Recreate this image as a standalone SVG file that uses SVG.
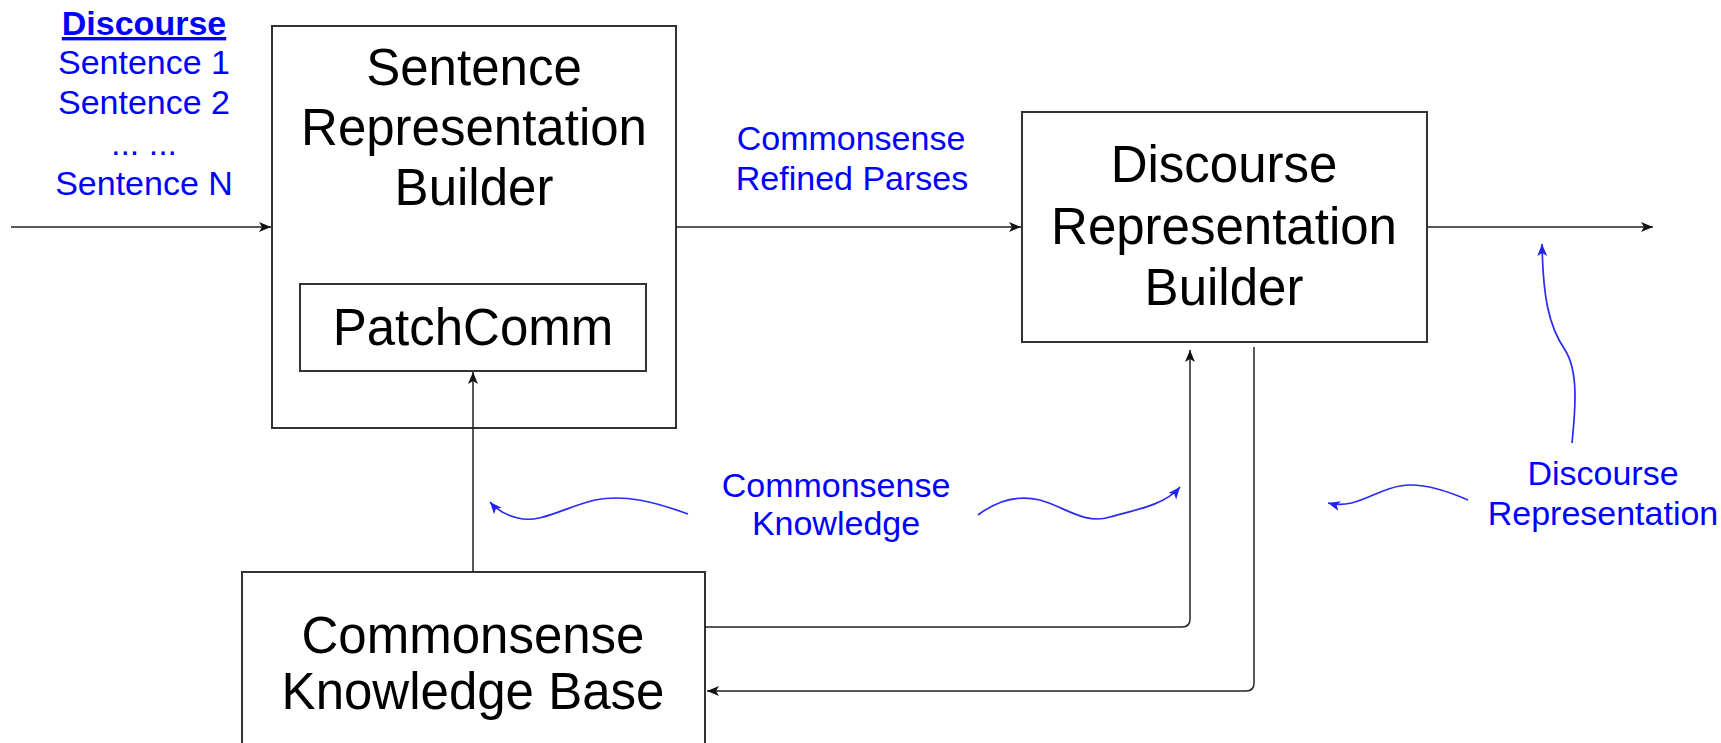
<svg xmlns="http://www.w3.org/2000/svg" width="1721" height="743" viewBox="0 0 1721 743">
<style>
.box{fill:#fff;stroke:#333;stroke-width:2}
.t{font-family:"Liberation Sans",Arial,Helvetica,sans-serif;font-size:51px;fill:#000;text-anchor:middle}
.b{font-family:"Liberation Sans",Arial,Helvetica,sans-serif;font-size:34px;fill:#0000ff;text-anchor:middle}
.c{fill:none;stroke:#222;stroke-width:1.5}
.bc{fill:none;stroke:#2a2af0;stroke-width:1.7}
</style>
<defs>
<marker id="ah" markerUnits="userSpaceOnUse" markerWidth="13" markerHeight="11" refX="12" refY="5.5" orient="auto">
<path d="M0,0.5 L12,5.5 L0,10.5 L3,5.5 Z" fill="#111"/>
</marker>
<marker id="bh" markerUnits="userSpaceOnUse" markerWidth="13" markerHeight="11" refX="12" refY="5.5" orient="auto">
<path d="M0,0.5 L12,5.5 L0,10.5 L3,5.5 Z" fill="#2222f0"/>
</marker>
</defs>
<rect width="1721" height="743" fill="#fff"/>

<g id="input-label">
<text class="b" x="144" y="35" font-weight="bold" text-decoration="underline">Discourse</text>
<text class="b" x="144" y="74">Sentence 1</text>
<text class="b" x="144" y="114">Sentence 2</text>
<text class="b" x="144" y="155">... ...</text>
<text class="b" x="144" y="195">Sentence N</text>
</g>

<g id="sentence-builder">
<rect class="box" x="272" y="26" width="404" height="402"/>
<text class="t" x="474" y="85">Sentence</text>
<text class="t" x="474" y="145">Representation</text>
<text class="t" x="474" y="205">Builder</text>
</g>

<g id="patchcomm">
<rect class="box" x="300" y="284" width="346" height="87"/>
<text class="t" x="473" y="345">PatchComm</text>
</g>

<g id="discourse-builder">
<rect class="box" x="1022" y="112" width="405" height="230"/>
<text class="t" x="1224" y="182">Discourse</text>
<text class="t" x="1224" y="244">Representation</text>
<text class="t" x="1224" y="305">Builder</text>
</g>

<g id="knowledge-base">
<rect class="box" x="242" y="572" width="463" height="190"/>
<text class="t" x="473" y="653">Commonsense</text>
<text class="t" x="473" y="709">Knowledge Base</text>
</g>

<g id="labels">
<text class="b" x="851" y="150">Commonsense</text>
<text class="b" x="852" y="190">Refined Parses</text>
<text class="b" x="836" y="497">Commonsense</text>
<text class="b" x="836" y="535">Knowledge</text>
<text class="b" x="1603" y="485">Discourse</text>
<text class="b" x="1603" y="525">Representation</text>
</g>

<g id="connectors">
<line class="c" x1="11" y1="227" x2="271" y2="227" marker-end="url(#ah)"/>
<line class="c" x1="676" y1="227" x2="1021" y2="227" marker-end="url(#ah)"/>
<line class="c" x1="1427" y1="227" x2="1653" y2="227" marker-end="url(#ah)"/>
<line class="c" x1="473" y1="572" x2="473" y2="372" marker-end="url(#ah)"/>
<path class="c" d="M705,627 L1182,627 Q1190,627 1190,619 L1190,350" marker-end="url(#ah)"/>
<path class="c" d="M1254,347 L1254,683 Q1254,691 1246,691 L707,691" marker-end="url(#ah)"/>
<path class="bc" d="M688,514 C655,502 625,494 595,500 C565,507 540,524 518,518 C505,515 496,509 490,502" marker-end="url(#bh)"/>
<path class="bc" d="M978,515 C995,502 1015,494 1040,500 C1065,507 1085,525 1110,517 C1135,510 1165,505 1180,487" marker-end="url(#bh)"/>
<path class="bc" d="M1572,443 C1576,405 1578,370 1565,350 C1548,325 1543,295 1542,244" marker-end="url(#bh)"/>
<path class="bc" d="M1468,500 C1445,490 1420,482 1400,486 C1375,490 1355,510 1328,503" marker-end="url(#bh)"/>
</g>
</svg>
